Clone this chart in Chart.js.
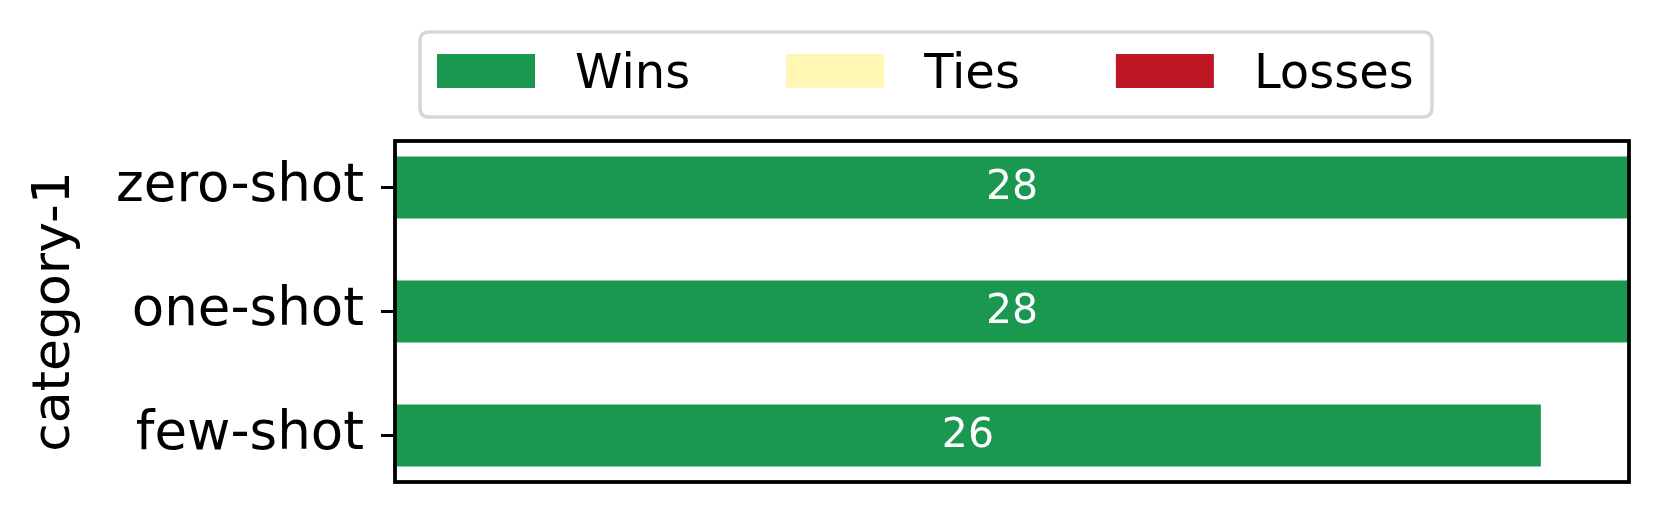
<!DOCTYPE html>
<html>
<head>
<meta charset="utf-8">
<script src="https://cdn.jsdelivr.net/npm/chart.js@4.4.1/dist/chart.umd.min.js"></script>
<style>
  html, body { margin: 0; padding: 0; background: #fff; }
  #wrap { width: 1661px; height: 515px; }
</style>
</head>
<body>
<div id="wrap"><canvas id="bar-chart" width="1661" height="515"></canvas></div>
<script>
const categories = ['zero-shot', 'one-shot', 'few-shot'];
const wins = [28, 28, 26];
const ties = [0, 0, 0];
const losses = [0, 0, 0];
const seriesNames = ['Wins', 'Ties', 'Losses'];
const seriesColors = ['#1a9850', '#fff7b3', '#be1827'];
const xMax = 28;

const FONT = 'DejaVu Sans';

const toPoints = (vals) => vals.map((v, i) => ({ x: v, y: i }));

// frame round the plot area, like matplotlib axes spines
const framePlugin = {
	id: 'frame',
	afterDraw(chart) {
		const { ctx, chartArea: a } = chart;
		ctx.save();
		ctx.strokeStyle = '#000';
		ctx.lineWidth = 3.8;
		ctx.strokeRect(a.left, a.top, a.right - a.left, a.bottom - a.top);
		ctx.restore();
	},
};

// value labels in the middle of each non-empty segment
const barLabels = {
	id: 'barLabels',
	afterDatasetsDraw(chart) {
		const { ctx } = chart;
		ctx.save();
		ctx.font = '41px "' + FONT + '"';
		ctx.fillStyle = '#fff';
		ctx.textAlign = 'center';
		ctx.textBaseline = 'middle';
		chart.data.datasets.forEach((ds, di) => {
			const meta = chart.getDatasetMeta(di);
			meta.data.forEach((el, i) => {
				const v = ds.data[i].x;
				if (!v) return;
				const { x, base, y } = el.getProps(['x', 'base', 'y'], true);
				ctx.fillText(String(v), (x + base) / 2, y + 1);
			});
		});
		ctx.restore();
	},
};

// boxed legend above the plot
const boxLegend = {
	id: 'boxLegend',
	afterDraw(chart) {
		const { ctx } = chart;
		const patchW = 98, patchH = 34, textGap = 40, itemGap = 96;
		const startX = 437, patchY = 54;
		ctx.save();
		ctx.font = '48px "' + FONT + '"';
		ctx.textBaseline = 'alphabetic';
		ctx.textAlign = 'left';
		// frame
		ctx.strokeStyle = '#d6d6d6';
		ctx.lineWidth = 3.5;
		ctx.beginPath();
		ctx.roundRect(420, 32, 1012, 85, 8);
		ctx.stroke();
		let x = startX;
		chart.data.datasets.forEach((ds) => {
			ctx.fillStyle = ds.backgroundColor;
			ctx.fillRect(x, patchY, patchW, patchH);
			x += patchW + textGap;
			ctx.fillStyle = '#000';
			ctx.fillText(ds.label, x, patchY + patchH);
			x += ctx.measureText(ds.label).width + itemGap;
		});
		ctx.restore();
	},
};

const ctx = document.getElementById('bar-chart').getContext('2d');

new Chart(ctx, {
	type: 'bar',
	data: {
		datasets: [wins, ties, losses].map((vals, i) => ({
			label: seriesNames[i],
			data: toPoints(vals),
			backgroundColor: seriesColors[i],
			borderWidth: 0,
			categoryPercentage: 1,
			barPercentage: 0.5,
		})),
	},
	options: {
		responsive: false,
		animation: false,
		indexAxis: 'y',
		layout: { padding: { left: 0, top: 141, right: 32, bottom: 33 } },
		plugins: {
			legend: { display: false },
			tooltip: { enabled: false },
		},
		scales: {
			x: {
				type: 'linear',
				stacked: true,
				min: 0,
				max: xMax,
				display: false,
			},
			y: {
				type: 'linear',
				stacked: true,
				reverse: true,
				offset: false,
				min: -0.375,
				max: categories.length - 1 + 0.375,
				afterBuildTicks: (scale) => {
					scale.ticks = categories.map((c, i) => ({ value: i }));
				},
				afterFit: (scale) => {
					scale.width = 395;
					scale.paddingTop = 0;
					scale.paddingBottom = 0;
				},
				border: { display: false },
				grid: {
					offset: false,
					drawOnChartArea: false,
					drawTicks: true,
					tickLength: 14,
					tickWidth: 3,
					tickColor: '#000',
				},
				ticks: {
					padding: 17,
					color: '#000',
					font: { family: FONT, size: 53 },
					callback: (v) => categories[v],
				},
				title: {
					display: true,
					text: 'category-1',
					color: '#000',
					font: { family: FONT, size: 52 },
					padding: { top: 24, bottom: 0 },
				},
			},
		},
	},
	plugins: [barLabels, framePlugin, boxLegend],
});
</script>
</body>
</html>
